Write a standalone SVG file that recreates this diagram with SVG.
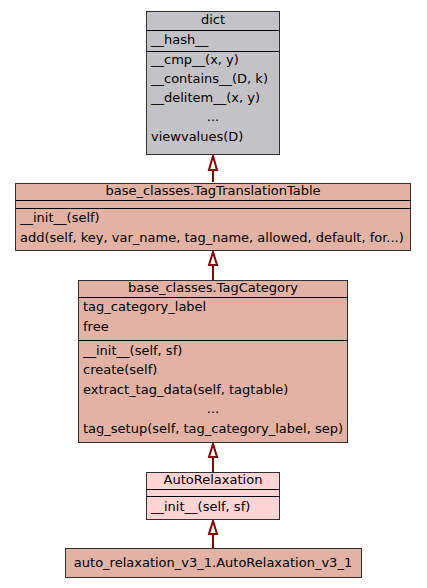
<svg xmlns="http://www.w3.org/2000/svg" width="427" height="588" viewBox="0 0 427 588">
<style>
.box{stroke:#303030;stroke-width:1}
.ln{stroke:#000;stroke-width:1}
text{font-family:"DejaVu Sans",sans-serif;font-size:13px;fill:#000}
.c{text-anchor:middle}
.e{stroke:#8b0000;stroke-width:2;fill:none}
.ah{fill:#fff;stroke:#8b0000;stroke-width:2}
.g{fill:#c3c2c7}
.r{fill:#e2b2a4}
.p{fill:#ffd4d4}
</style>
<rect width="427" height="588" fill="#fff"/>
<g id="edges">
<path class="e" d="M213 182V171"/><path class="ah" d="M213 156L209 170H217Z"/>
<path class="e" d="M213 281V266"/><path class="ah" d="M213 252L209 265H217Z"/>
<path class="e" d="M213 472V458"/><path class="ah" d="M213 444L209 457H217Z"/>
<path class="e" d="M213 548V535"/><path class="ah" d="M213 521L209 534H217Z"/>
</g>
<g id="dict">
<rect class="box g" x="146.5" y="11.5" width="133" height="143"/>
<path class="ln" d="M146.5 30.5H279.5M146.5 51.5H279.5"/>
<text class="c" x="213" y="24">dict</text>
<text x="151" y="44">__hash__</text>
<text x="151" y="64">__cmp__(x, y)</text>
<text x="151" y="83">__contains__(D, k)</text>
<text x="151" y="102">__delitem__(x, y)</text>
<text class="c" x="213" y="121">...</text>
<text x="151" y="141">viewvalues(D)</text>
</g>
<g id="TagTranslationTable">
<rect class="box r" x="15.5" y="183.5" width="395" height="67"/>
<path class="ln" d="M15.5 200.5H410.5M15.5 208.5H410.5"/>
<text class="c" x="213" y="195">base_classes.TagTranslationTable</text>
<text x="20" y="222">__init__(self)</text>
<text x="20" y="242">add(self, key, var_name, tag_name, allowed, default, for...)</text>
</g>
<g id="TagCategory">
<rect class="box r" x="78.5" y="280.5" width="269" height="162"/>
<path class="ln" d="M78.5 297.5H347.5M78.5 340.5H347.5"/>
<text class="c" x="213" y="292">base_classes.TagCategory</text>
<text x="83" y="311">tag_category_label</text>
<text x="83" y="331">free</text>
<text x="83" y="355">__init__(self, sf)</text>
<text x="83" y="374">create(self)</text>
<text x="83" y="394">extract_tag_data(self, tagtable)</text>
<text class="c" x="213" y="413">...</text>
<text x="83" y="433">tag_setup(self, tag_category_label, sep)</text>
</g>
<g id="AutoRelaxation">
<rect class="box p" x="146.5" y="472.5" width="133" height="47"/>
<path class="ln" d="M146.5 489.5H279.5M146.5 496.5H279.5"/>
<text class="c" x="213" y="484">AutoRelaxation</text>
<text x="151" y="511">__init__(self, sf)</text>
</g>
<g id="AutoRelaxation_v3_1">
<rect class="box r" x="65.5" y="548.5" width="296" height="29"/>
<text class="c" x="213" y="567">auto_relaxation_v3_1.AutoRelaxation_v3_1</text>
</g>
</svg>
